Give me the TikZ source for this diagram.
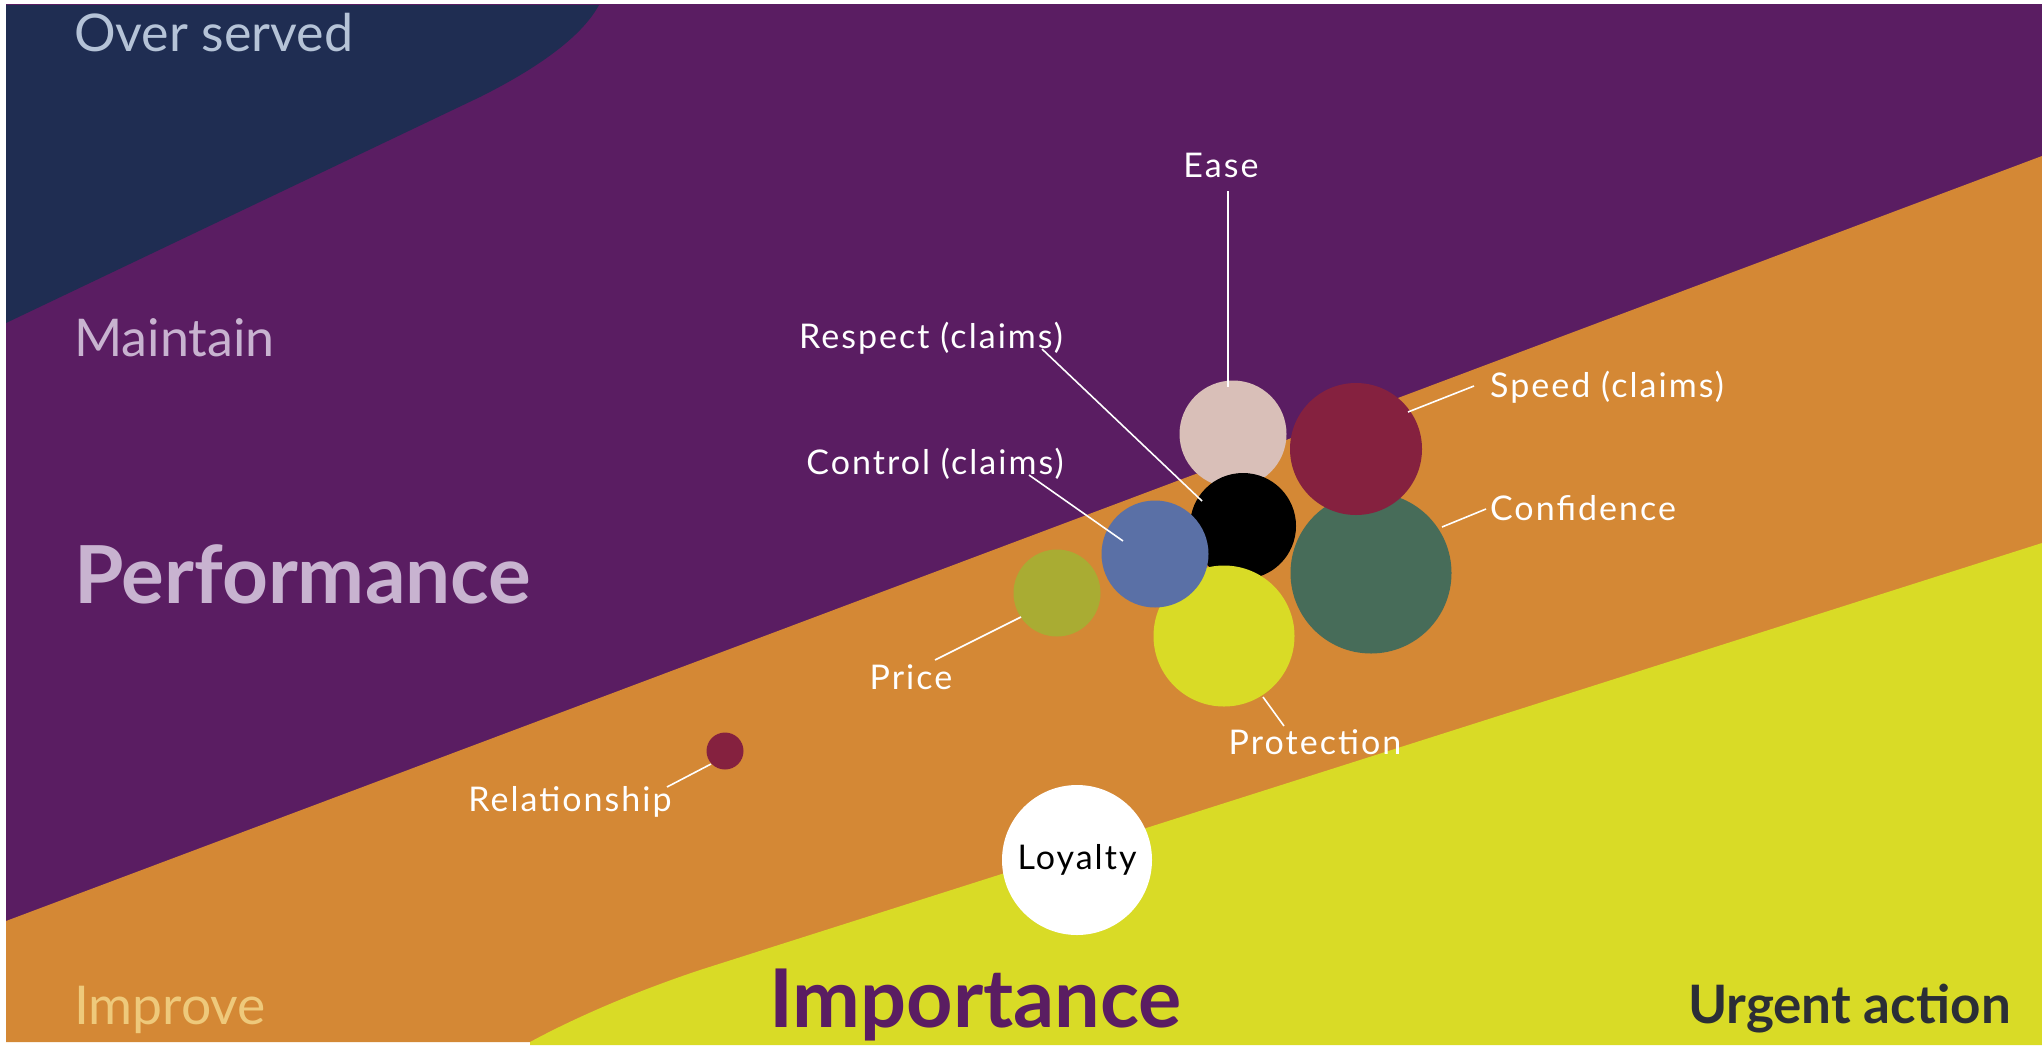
\documentclass[tikz,border=0pt]{standalone}
\usepackage{fontspec}
\setmainfont{Lato}
\newfontfamily\lblfont[LetterSpace=6]{Lato}
\definecolor{navy}{HTML}{1F2D52}
\definecolor{purp}{HTML}{5A1D62}
\definecolor{orng}{HTML}{D48835}
\definecolor{yell}{HTML}{D9DB26}
\definecolor{easeC}{HTML}{D9BFB8}
\definecolor{maroonC}{HTML}{85213F}
\definecolor{blueC}{HTML}{5A70A6}
\definecolor{oliveC}{HTML}{A9AC33}
\definecolor{greenC}{HTML}{476C59}
\definecolor{overC}{HTML}{B5C3D7}
\definecolor{maintC}{HTML}{C8B3D0}
\definecolor{improveC}{HTML}{EEC97B}
\definecolor{urgC}{HTML}{2B2E36}
\begin{document}
\begin{tikzpicture}[x=1pt,y=-1pt,
  bub/.style={circle, inner sep=0pt, draw=none},
  lbl/.style={anchor=base, inner sep=0pt, text=white, font=\lblfont\fontsize{34}{38}\selectfont},
  bigl/.style={anchor=base west, inner sep=0pt, font=\fontsize{52}{60}\selectfont},
  hugel/.style={anchor=base west, inner sep=0pt, font=\fontsize{80}{88}\selectfont\bfseries},
  leader/.style={draw=white, line width=1.6pt}]
\useasboundingbox (0,0) rectangle (2042,1045);
% background regions
\fill[white] (0,0) rectangle (2042,1045);
\fill[purp] (6,4) rectangle (2042,1042);
\fill[navy] (6,5) -- (599,5) .. controls (580,40) and (530,72) .. (480,97) -- (6,323) -- cycle;
\fill[orng] (6,921) -- (2042,156) -- (2042,1042) -- (6,1042) -- cycle;
\fill[yell] (2042,543) -- (700,970) .. controls (640,990) and (580,1015) .. (530,1042) -- (530,1045) -- (2042,1045) -- cycle;
% region labels
\node[bigl, text=overC] (over) at (74,51) {Over served};
\node[bigl, text=maintC] (maint) at (74,356) {Maintain};
\node[hugel, text=maintC] (perf) at (74,603) {Performance};
\node[bigl, text=improveC, font=\fontsize{53.5}{60}\selectfont] (impr) at (74,1024) {Improve};
\node[hugel, text=purp, font=\fontsize{81}{90}\selectfont\bfseries] (impo) at (769,1027) {Importance};
\node[bigl, text=urgC, anchor=base east, font=\fontsize{53}{60}\selectfont\bfseries] (urg) at (2011,1023) {Urgent action};
% bubbles
\node[bub, fill=easeC, minimum size=107pt] (ease) at (1233,434) {};
\node[bub, fill=black, minimum size=106pt] (resp) at (1243,526) {};
\node[bub, fill=greenC, minimum size=161pt] (conf) at (1371,573) {};
\node[bub, fill=maroonC, minimum size=132pt] (speed) at (1356,449) {};
\node[bub, fill=yell, minimum size=141pt] (prot) at (1224,636) {};
\node[bub, fill=blueC, minimum size=107pt] (ctrl) at (1155,554) {};
\node[bub, fill=oliveC, minimum size=87pt] (price) at (1057,593) {};
\node[bub, fill=maroonC, minimum size=37pt] (rel) at (725,751) {};
\node[bub, fill=white, minimum size=150pt] (loy) at (1077,860) {};
% labels
\node[lbl] (easeL) at (1221,177) {Ease};
\node[lbl] (respL) at (931,348) {Respect (claims)};
\node[lbl] (speedL) at (1607,397) {Speed (claims)};
\node[lbl] (ctrlL) at (935,474) {Control (claims)};
\node[lbl] (confL) at (1583,520) {Confidence};
\node[lbl] (priceL) at (911,689) {Price};
\node[lbl] (protL) at (1315,754) {Protection};
\node[lbl] (relL) at (570,811) {Relationship};
\node[lbl, text=black] (loyL) at (1077,869) {Loyalty};
% leader end points
\coordinate (easeP) at (1228,387);
\coordinate (respP) at (1202,501);
\coordinate (speedP) at (1408,412);
\coordinate (ctrlP) at (1123,541);
\coordinate (confP) at (1442,527);
\coordinate (priceP) at (1021,617);
\coordinate (protP) at (1263,697);
\coordinate (relP) at (711,764);
% leaders
\draw[leader] ([xshift=7pt,yshift=-14pt]easeL.base) -- (easeP);
\draw[leader] ([xshift=111pt,yshift=-1pt]respL.base) -- (respP);
\draw[leader] ([xshift=-133pt,yshift=11pt]speedL.base) -- (speedP);
\draw[leader] ([xshift=94pt,yshift=-1pt]ctrlL.base) -- (ctrlP);
\draw[leader] ([xshift=-97pt,yshift=11pt]confL.base) -- (confP);
\draw[leader] ([xshift=24pt,yshift=29pt]priceL.base) -- (priceP);
\draw[leader] ([xshift=-31pt,yshift=28pt]protL.base) -- (protP);
\draw[leader] ([xshift=97pt,yshift=24pt]relL.base) -- (relP);
\end{tikzpicture}
\end{document}
